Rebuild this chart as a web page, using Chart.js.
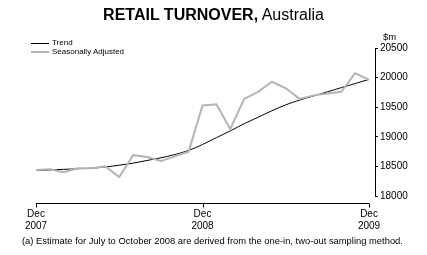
<!DOCTYPE html>
<html>
<head>
<meta charset="utf-8">
<script src="https://cdn.jsdelivr.net/npm/chart.js@4"></script>
<style>
  body { margin: 0; background: #fff; font-family: "Liberation Sans", Arial, sans-serif; }
  #wrap { position: relative; width: 427px; height: 255px; }
  canvas { position: absolute; left: 0; top: 0; }
  .txt { position: absolute; color: #000; white-space: nowrap; }
  #title { left: 0; width: 427px; top: 6px; text-align: center; font-size: 16px; }
  #title b { font-weight: bold; }
  .leg { font-size: 8px; left: 52px; }
  .sw { position: absolute; left: 31px; width: 18px; }
  #unit { left: 383px; top: 31px; font-size: 9.5px; }
  #note { left: 22px; top: 235px; font-size: 9.4px; }
</style>
</head>
<body>
<div id="wrap">
  <canvas id="c" width="427" height="255"></canvas>
  <div class="txt" id="title"><b>RETAIL TURNOVER,</b> Australia</div>
  <div class="sw" style="top:43px;border-top:1px solid #000"></div>
  <div class="txt leg" style="top:38px">Trend</div>
  <div class="sw" style="top:51px;border-top:2px solid #b4b4b4"></div>
  <div class="txt leg" style="top:47px">Seasonally Adjusted</div>
  <div class="txt" id="unit">$m</div>
  <div class="txt" id="note">(a) Estimate for July to October 2008 are derived from the one-in, two-out sampling method.</div>
</div>
<script>
// months Dec 2007 .. Dec 2009
const months = ['Dec 2007','Jan 2008','Feb 2008','Mar 2008','Apr 2008','May 2008','Jun 2008','Jul 2008','Aug 2008','Sep 2008','Oct 2008','Nov 2008',
  'Dec 2008','Jan 2009','Feb 2009','Mar 2009','Apr 2009','May 2009','Jun 2009','Jul 2009','Aug 2009','Sep 2009','Oct 2009','Nov 2009','Dec 2009'];
const trend = [18430,18440,18450,18460,18470,18490,18520,18555,18600,18645,18700,18770,
  18870,18985,19100,19220,19330,19440,19540,19620,19690,19760,19830,19900,19970];
const seasAdj = [18440,18450,18400,18470,18470,18500,18320,18690,18660,18590,18670,18750,
  19530,19550,19130,19640,19760,19930,19820,19640,19700,19730,19760,20075,19960];
const yTicks = [18000,18500,19000,19500,20000,20500];
const xTickAt = [0, 12, 24];

const pts = arr => arr.map((v, i) => ({ x: i, y: v }));

// x axis line sits a bit below the plot, like the original
const xAxisLine = {
  id: 'xAxisLine',
  afterDraw(chart) {
    const ctx = chart.ctx, xs = chart.scales.x;
    const y = chart.chartArea.bottom + 7.5;
    ctx.save();
    ctx.strokeStyle = '#000';
    ctx.lineWidth = 1;
    ctx.beginPath();
    ctx.moveTo(xs.getPixelForValue(xTickAt[0]), y);
    ctx.lineTo(xs.getPixelForValue(xTickAt[xTickAt.length - 1]), y);
    xTickAt.forEach(t => {
      const px = Math.round(xs.getPixelForValue(t)) + 0.5;
      ctx.moveTo(px, y);
      ctx.lineTo(px, y + 4);
    });
    ctx.stroke();
    ctx.restore();
  }
};

new Chart(document.getElementById('c'), {
  type: 'line',
  data: {
    datasets: [
      { label: 'Seasonally Adjusted', data: pts(seasAdj), borderColor: '#b4b4b4', borderWidth: 2, pointRadius: 0, tension: 0 },
      { label: 'Trend', data: pts(trend), borderColor: '#000', borderWidth: 1, pointRadius: 0, tension: 0.3 }
    ]
  },
  options: {
    responsive: false,
    animation: false,
    devicePixelRatio: 1,
    layout: { padding: { left: 36, top: 48, right: 0, bottom: 0 } },
    plugins: { legend: { display: false }, tooltip: { enabled: false } },
    scales: {
      x: {
        type: 'linear',
        min: 0,
        max: 24.43,
        afterFit: s => { s.height = 59; },
        afterBuildTicks: s => { s.ticks = xTickAt.map(v => ({ value: v })); },
        grid: { display: false },
        border: { display: false },
        ticks: {
          maxRotation: 0,
          autoSkip: false,
          padding: 4,
          color: '#000',
          font: { family: 'Liberation Sans', size: 10, lineHeight: 1.2 },
          callback: v => months[v] ? months[v].split(' ') : ''
        }
      },
      y: {
        position: 'right',
        min: yTicks[0],
        max: yTicks[yTicks.length - 1],
        afterFit: s => { s.width = 52; },
        afterBuildTicks: s => { s.ticks = yTicks.map(v => ({ value: v })); },
        grid: { drawOnChartArea: false, tickLength: 3, color: '#000' },
        border: { display: true, color: '#000' },
        ticks: { padding: 2, color: '#000', font: { family: 'Liberation Sans', size: 10 }, callback: v => String(v) }
      }
    }
  },
  plugins: [xAxisLine]
});
</script>
</body>
</html>
